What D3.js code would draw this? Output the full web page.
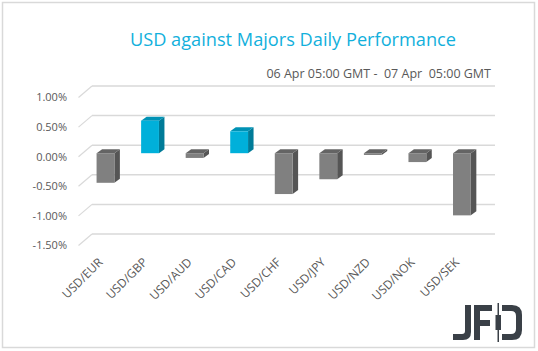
<!DOCTYPE html>
<html>
<head>
<meta charset="utf-8">
<script src="https://cdn.jsdelivr.net/npm/d3@7"></script>
<style>
  html, body { margin: 0; padding: 0; background: #fff; }
  svg { display: block; font-family: "Open Sans", "Noto Sans", sans-serif; }
</style>
</head>
<body>
<svg id="chart" width="538" height="351"></svg>
<script>
// values (% change)
const pairs = ['USD/EUR', 'USD/GBP', 'USD/AUD', 'USD/CAD', 'USD/CHF', 'USD/JPY', 'USD/NZD', 'USD/NOK', 'USD/SEK']
const changes = [-0.50, 0.55, -0.08, 0.37, -0.69, -0.44, -0.03, -0.15, -1.05]
const yTicks = [1.0, 0.5, 0.0, -0.5, -1.0, -1.5]

const titleText = 'USD against Majors Daily Performance'
const periodText = '06 Apr 05:00 GMT -  07 Apr  05:00 GMT'

const config = {
    wallLeft: 92,
    wallRight: 495,
    depthX: 13.5,
    depthY: 11.5,
    barDx: 5.5,
    barDy: 4,
    barShift: 8
}

const svg = d3.select('#chart')

// outer frame
svg.append('rect')
    .attr('x', 2.5).attr('y', 2.5)
    .attr('width', 532).attr('height', 345)
    .attr('fill', 'none')
    .attr('stroke', '#d9d9d9')
    .attr('stroke-width', 1.5)

// back wall scale
const y = d3.scaleLinear()
    .domain([-1.5, 1.0])
    .range([234, 86])

// bar front faces
const x = d3.scaleBand()
    .domain(pairs)
    .range([83.2, 484.2])
    .paddingInner(0.6)
    .paddingOuter(0.3)

const fmt = d3.formatLocale({decimal: '.', thousands: ',', grouping: [3], currency: ['', ''], minus: '-'}).format('.2f')

// gridlines on the back wall + the side wall diagonals
const grid = svg.append('g').attr('id', 'grid')
grid.selectAll('line.h')
    .data(yTicks)
    .enter().append('line')
    .attr('class', 'h')
    .attr('x1', config.wallLeft)
    .attr('x2', config.wallRight)
    .attr('y1', d => y(d))
    .attr('y2', d => y(d))
    .attr('stroke', '#d9d9d9')
    .attr('stroke-width', 1.5)

grid.selectAll('line.d')
    .data(yTicks)
    .enter().append('line')
    .attr('class', 'd')
    .attr('x1', config.wallLeft - config.depthX)
    .attr('x2', config.wallLeft)
    .attr('y1', d => y(d) + config.depthY)
    .attr('y2', d => y(d))
    .attr('stroke', '#d9d9d9')
    .attr('stroke-width', 1.2)

// y tick labels on the front plane
svg.append('g').attr('id', 'yAxis')
    .selectAll('text')
    .data(yTicks)
    .enter().append('text')
    .attr('x', 67)
    .attr('y', d => y(d) + config.depthY)
    .attr('dy', '0.35em')
    .attr('text-anchor', 'end')
    .attr('font-size', 11)
    .attr('fill', '#595959')
    .text(d => fmt(d) + '%')

// bars
const colors = {
    pos: {front: '#00b0da', side: '#007b98', top: '#0092b5'},
    neg: {front: '#808080', side: '#555555', top: '#646464'}
}
const bw = x.bandwidth()
const bars = svg.append('g').attr('id', 'bars')
    .selectAll('g')
    .data(pairs.map((p, i) => ({pair: p, value: changes[i]})))
    .enter().append('g')

function barBox(d) {
    const x0 = x(d.pair)
    const top = Math.min(y(d.value), y(0)) + config.barShift
    const bottom = Math.max(y(d.value), y(0)) + config.barShift
    return {x0, x1: x0 + bw, top, bottom}
}

bars.append('path')
    .attr('fill', d => d.value >= 0 ? colors.pos.side : colors.neg.side)
    .attr('d', d => {
        const b = barBox(d)
        return `M${b.x1},${b.top} L${b.x1 + config.barDx},${b.top - config.barDy} L${b.x1 + config.barDx},${b.bottom - config.barDy} L${b.x1},${b.bottom} Z`
    })

bars.append('path')
    .attr('fill', d => d.value >= 0 ? colors.pos.top : colors.neg.top)
    .attr('d', d => {
        const b = barBox(d)
        return `M${b.x0},${b.top} L${b.x0 + config.barDx},${b.top - config.barDy} L${b.x1 + config.barDx},${b.top - config.barDy} L${b.x1},${b.top} Z`
    })

bars.append('rect')
    .attr('x', d => barBox(d).x0)
    .attr('y', d => barBox(d).top)
    .attr('width', bw)
    .attr('height', d => barBox(d).bottom - barBox(d).top)
    .attr('fill', d => d.value >= 0 ? colors.pos.front : colors.neg.front)

// category labels, rotated
svg.append('g').attr('id', 'xAxis')
    .selectAll('text')
    .data(pairs)
    .enter().append('text')
    .attr('transform', d => `translate(${x(d) + bw / 2 - 2},${263}) rotate(-45)`)
    .attr('text-anchor', 'end')
    .attr('font-size', 12)
    .attr('fill', '#595959')
    .text(d => d)

// titles
svg.append('text')
    .attr('x', 293)
    .attr('y', 46)
    .attr('text-anchor', 'middle')
    .attr('font-size', 18.2)
    .attr('fill', '#12b0dc')
    .text(titleText)

svg.append('text')
    .attr('x', 491)
    .attr('y', 78)
    .attr('text-anchor', 'end')
    .attr('font-size', 12.5)
    .attr('fill', '#595959')
    .style('white-space', 'pre')
    .text(periodText)

// JFD logo
const logo = svg.append('g').attr('id', 'logo').attr('fill', '#3a4047')
// J
logo.append('path').attr('d', 'M465,305 L471,305 L471,332 Q471,340 463,340 L453,340 L453,334 L462,334 Q465,334 465,331 Z')
// F
logo.append('path').attr('d', 'M474,305 L492,305 L492,311 L480,311 L480,320 L490,320 L490,326 L480,326 L480,340 L474,340 Z')
// candle
logo.append('rect').attr('x', 497.5).attr('y', 303).attr('width', 1.5).attr('height', 39)
logo.append('rect').attr('x', 495.5).attr('y', 315).attr('width', 5.5).attr('height', 15)
// D
logo.append('path').attr('d', 'M502,305 L512,305 Q522,305 522,315 L522,330 Q522,340 512,340 L502,340 L502,334 L511,334 Q516,334 516,329 L516,316 Q516,311 511,311 L502,311 Z')
</script>
</body>
</html>
